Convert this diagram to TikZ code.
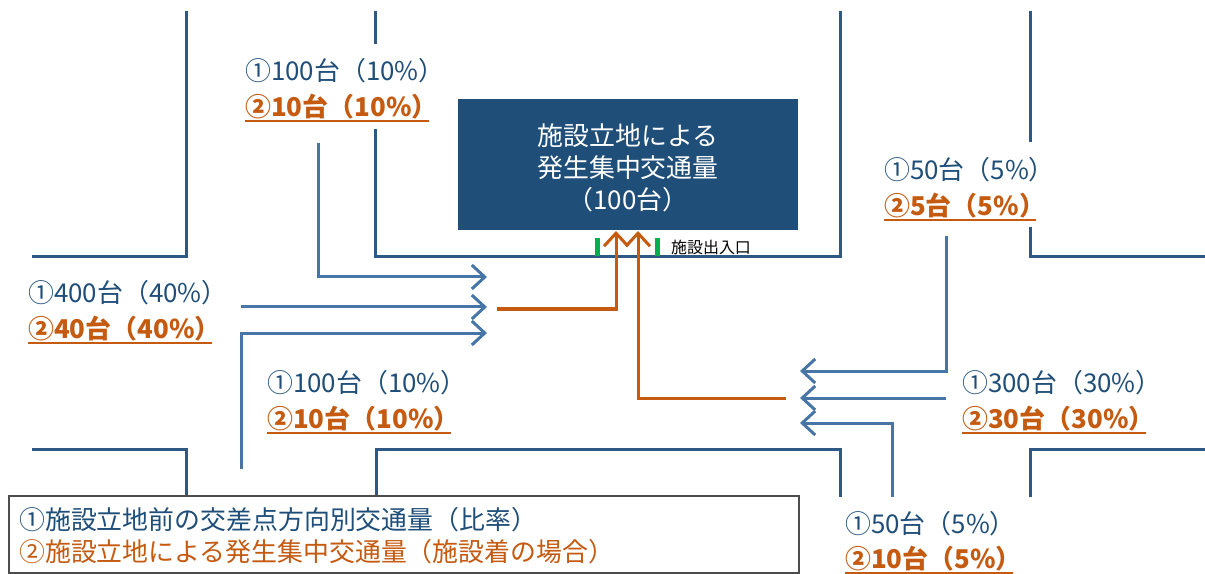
\documentclass[tikz,border=0pt]{standalone}
\usepackage{fontspec}
\setmainfont{Noto Sans CJK JP}
\usetikzlibrary{arrows.meta}
\definecolor{roadc}{HTML}{2E5985}
\definecolor{flowc}{HTML}{4675A6}
\definecolor{labc}{HTML}{1F4E79}
\definecolor{orc}{HTML}{C55A11}
\definecolor{boxc}{HTML}{1F4E79}
\definecolor{grc}{HTML}{00B050}
\tikzset{
  road/.style={draw=roadc, line width=3bp},
  flow/.style={draw=flowc, line width=3bp, -{Straight Barb[length=13bp,width=24bp]}},
  oflow/.style={draw=orc, line width=3bp, -{Straight Barb[length=13bp,width=24bp]}},
  lab1/.style={anchor=west, inner sep=0pt, text=labc, font=\fontsize{26}{30}\selectfont},
  lab2/.style={anchor=west, inner sep=0pt, text=orc, font=\fontsize{26}{30}\selectfont\bfseries},
  uline/.style={draw=orc, line width=1.6bp},
  gate/.style={draw=grc, line width=5bp},
  legtext/.style={anchor=west, inner sep=0pt, font=\fontsize{26}{30}\selectfont}
}
\begin{document}
\begin{tikzpicture}[x=1bp, y=-1bp]
\useasboundingbox (0,0) rectangle (1205,574);
% roads
\draw[road] (186,11) -- (186,257) -- (32,257);
\draw[road] (375,11) -- (375,44);
\draw[road] (375,129) -- (375,257) -- (840,257) -- (840,11);
\draw[road] (1030,11) -- (1030,142);
\draw[road] (1030,227) -- (1030,257) -- (1205,257);
\draw[road] (32,449) -- (186,449) -- (186,495);
\draw[road] (376,495) -- (376,449) -- (840,449) -- (840,497);
\draw[road] (1030,497) -- (1030,449) -- (1205,449);
% facility
\node[fill=boxc, anchor=north west, minimum width=340bp, minimum height=131bp, inner sep=0pt] (facility) at (458,99) {};
\node[align=center, text=white, inner sep=0pt, font=\fontsize{26}{32}\selectfont] (facilitytext) at (628,168) {施設立地による\\発生集中交通量\\（100台）};
% gates
\coordinate (g1t) at (597,238); \coordinate (g1b) at (597,256);
\coordinate (g2t) at (657,238); \coordinate (g2b) at (657,256);
\draw[gate] (g1t) -- (g1b);
\draw[gate] (g2t) -- (g2b);
\node[anchor=west, inner sep=0pt, font=\fontsize{16}{18}\selectfont] (gatelabel) at (671,247) {施設出入口};
% left flows
\coordinate (a1s) at (318,143); \coordinate (a1e) at (487,277);
\coordinate (a2s) at (241,307); \coordinate (a2e) at (487,307);
\coordinate (a3s) at (241,469); \coordinate (a3e) at (487,333);
\draw[flow] (a1s) |- (a1e);
\draw[flow] (a2s) -- (a2e);
\draw[flow] (a3s) |- (a3e);
% right flows
\coordinate (b1s) at (946,236); \coordinate (b1e) at (800,371);
\coordinate (b2s) at (946,398); \coordinate (b2e) at (800,398);
\coordinate (b3s) at (892,497); \coordinate (b3e) at (800,423);
\draw[flow] (b1s) |- (b1e);
\draw[flow] (b2s) -- (b2e);
\draw[flow] (b3s) |- (b3e);
% orange flows
\coordinate (o1s) at (497,309); \coordinate (o1e) at (616,231);
\coordinate (o2s) at (786,398); \coordinate (o2e) at (638,231);
\draw[oflow] (o1s) -| (o1e);
\draw[oflow] (o2s) -| (o2e);
% labels
\node[lab1] (l1a) at (245,71) {①100台（10\%）};
\node[lab2] (l1b) at (245,107) {②10台（10\%）};
\node[lab1] (l2a) at (28,293) {①400台（40\%）};
\node[lab2] (l2b) at (28,329) {②40台（40\%）};
\node[lab1] (l3a) at (267,383) {①100台（10\%）};
\node[lab2] (l3b) at (267,419) {②10台（10\%）};
\node[lab1] (l4a) at (884,170) {①50台（5\%）};
\node[lab2] (l4b) at (884,206) {②5台（5\%）};
\node[lab1] (l5a) at (962,383) {①300台（30\%）};
\node[lab2] (l5b) at (962,419) {②30台（30\%）};
\node[lab1] (l6a) at (845,524) {①50台（5\%）};
\node[lab2] (l6b) at (845,559) {②10台（5\%）};
\foreach \n in {l1b,l2b,l3b,l4b,l5b,l6b}
  \draw[uline] ([yshift=-1.5bp]\n.south west) -- ([yshift=-1.5bp,xshift=-9bp]\n.south east);
% legend
\node[draw=black!70, fill=white, line width=1.5bp, anchor=north west, minimum width=790bp, minimum height=77bp, inner sep=0pt] (legend) at (8,495) {};
\node[legtext, text=labc] (leg1) at (19,520) {①施設立地前の交差点方向別交通量（比率）};
\node[legtext, text=orc] (leg2) at (19,552) {②施設立地による発生集中交通量（施設着の場合）};
\end{tikzpicture}
\end{document}
